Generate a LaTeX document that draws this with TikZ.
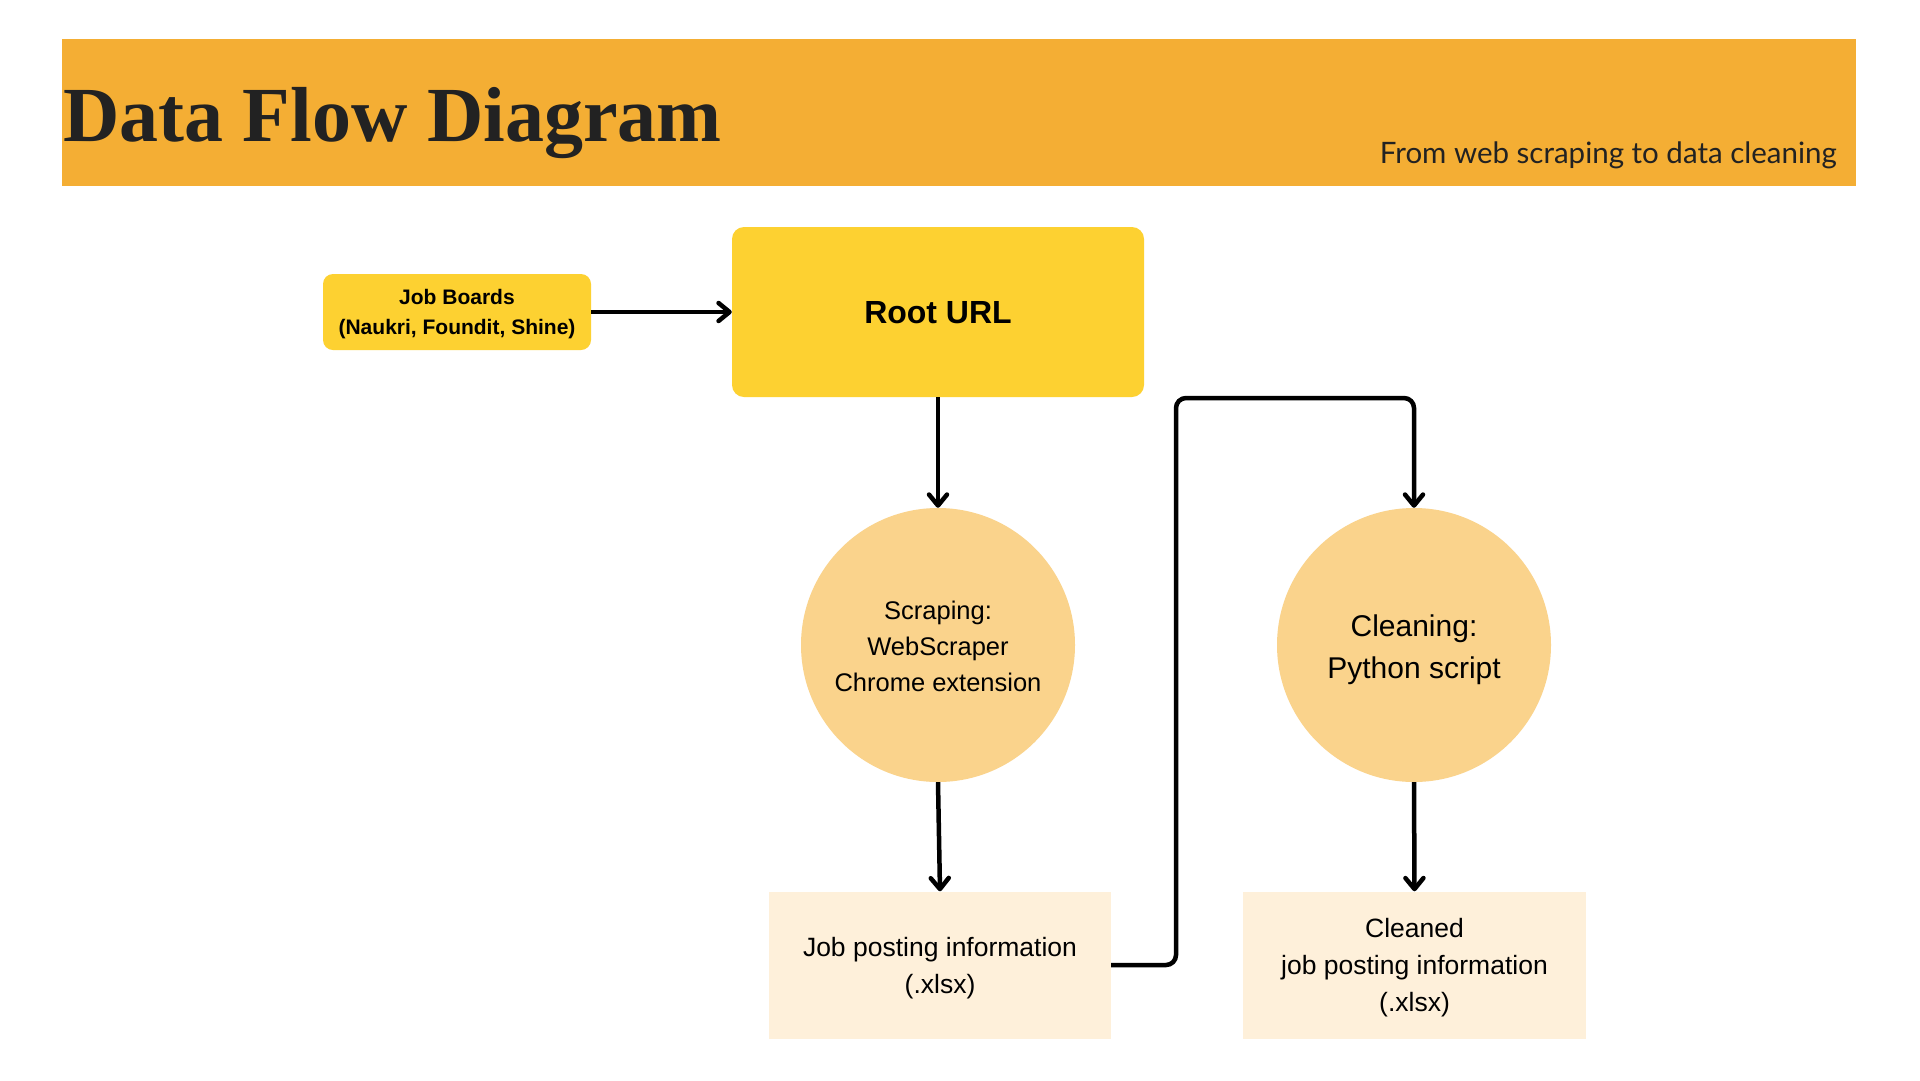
\documentclass[tikz,border=0pt]{standalone}
\usepackage{fontspec}
\setmainfont{Liberation Sans}
\newfontfamily\titlefont{Liberation Serif}
\newfontfamily\subfont{Lato}
\usetikzlibrary{arrows.meta}
\definecolor{bandc}{HTML}{F4AE34}
\definecolor{rootc}{HTML}{FDD131}
\definecolor{circc}{HTML}{FAD38C}
\definecolor{filec}{HTML}{FEF0DA}
\definecolor{inkc}{HTML}{222222}
\begin{document}
\begin{tikzpicture}[x=1pt,y=-1pt,
  conn/.style={line width=4.5pt, -{Straight Barb[length=11pt,width=18pt,round]}},
  ybox/.style={fill=rootc, draw=none, inner sep=0pt},
  proc/.style={circle, fill=circc, draw=none, inner sep=0pt, minimum size=274pt},
  store/.style={rectangle, fill=filec, draw=none, inner sep=0pt, minimum width=342pt, minimum height=147pt},
  txt/.style={inner sep=0pt, align=center}
]
\useasboundingbox (0,0) rectangle (1920,1080);
\fill[white] (0,0) rectangle (1920,1080);
\node[fill=bandc, draw=none, inner sep=0pt, minimum width=1794pt, minimum height=147pt] (band) at (959,112.5) {};
\node[anchor=base west, inner sep=0pt, text=inkc] (title) at (63,141) {\titlefont\bfseries\fontsize{78}{80}\selectfont Data Flow Diagram};
\node[anchor=base east, inner sep=0pt, text=inkc] (subtitle) at (1837,163) {\subfont\fontsize{29.5}{32}\selectfont From web scraping to data cleaning};

\node[ybox, rounded corners=10pt, minimum width=268pt, minimum height=76pt] (jb) at (457,312) {};
\node[ybox, rounded corners=12pt, minimum width=412pt, minimum height=170pt] (root) at (938,312) {};
\node[proc] (scr) at (938,645) {};
\node[proc] (cln) at (1414,645) {};
\node[store] (job) at (940,965) {};
\node[store, minimum width=343pt] (cjob) at (1414.5,965) {};

\node[txt, font=\bfseries\fontsize{21}{30}\selectfont] (jbt) at ([yshift=-2.5pt]jb.center) {Job Boards\\(Naukri, Foundit, Shine)};
\node[txt, font=\bfseries\fontsize{32}{38}\selectfont] (roott) at ([yshift=-1pt]root.center) {Root URL};
\node[txt, font=\fontsize{25.5}{36}\selectfont] (scrt) at ([yshift=-1.5pt]scr.center) {Scraping:\\WebScraper\\Chrome extension};
\node[txt, font=\fontsize{30}{42}\selectfont] (clnt) at ([yshift=-5pt]cln.center) {Cleaning:\\Python script};
\node[txt, font=\fontsize{26.5}{37}\selectfont] (jobt) at ([yshift=-3pt]job.center) {Job posting information\\(.xlsx)};
\node[txt, font=\fontsize{26.5}{37}\selectfont] (cjobt) at ([yshift=-3pt]cjob.center) {Cleaned\\job posting information\\(.xlsx)};

\coordinate (bend) at (1176,398);
\draw[conn] (jb) -- (root);
\draw[conn] (root.south) -- (scr.north);
\draw[conn] (scr.south) -- (job.north);
\draw[conn, rounded corners=10pt] (job.east) -| (bend) -| (cln.north);
\draw[conn] (cln.south) -- (cjob.north);
\end{tikzpicture}
\end{document}
